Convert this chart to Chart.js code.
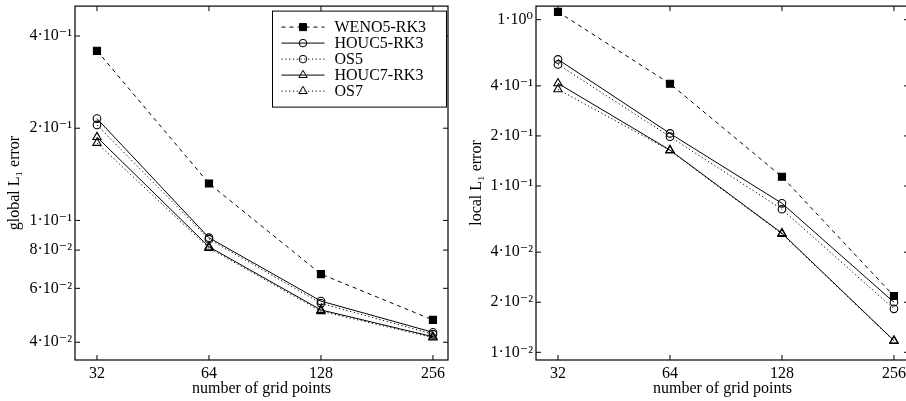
<!DOCTYPE html>
<html>
<head>
<meta charset="utf-8">
<script src="https://cdn.jsdelivr.net/npm/chart.js@4"></script>
<style>
  html, body { margin: 0; padding: 0; background: #fff; overflow: hidden; }
  #wrap { position: relative; width: 906px; height: 401px; overflow: hidden; }
  #leftChart { position: absolute; left: 0; top: 0; }
  #rightChart { position: absolute; left: 455px; top: 0; }
</style>
</head>
<body>
<div id="wrap">
  <canvas id="leftChart" width="455" height="401"></canvas>
  <canvas id="rightChart" width="461" height="401"></canvas>
</div>
<script>
// данные
const gridPoints = [32, 64, 128, 256];
const seriesNames = ["WENO5-RK3", "HOUC5-RK3", "OS5", "HOUC7-RK3", "OS7"];

const globalWeno5 = [0.358, 0.132, 0.0668, 0.0473];
const globalHouc5 = [0.215, 0.0878, 0.0545, 0.0431];
const globalOs5 = [0.205, 0.0868, 0.0536, 0.0425];
const globalHouc7 = [0.187, 0.0820, 0.0510, 0.0417];
const globalOs7 = [0.179, 0.0812, 0.0505, 0.0414];

const localWeno5 = [1.114, 0.412, 0.1137, 0.0218];
const localHouc5 = [0.577, 0.207, 0.0787, 0.0200];
const localOs5 = [0.538, 0.198, 0.0725, 0.01825];
const localHouc7 = [0.414, 0.1645, 0.052, 0.01177];
const localOs7 = [0.381, 0.1635, 0.0515, 0.0117];

const xTicks = [32, 64, 128, 256];
const xTickLabels = ["32", "64", "128", "256"];
const leftYTicks = [0.04, 0.06, 0.08, 0.1, 0.2, 0.4];
const leftYTickLabels = ["4·10⁻²", "6·10⁻²", "8·10⁻²", "1·10⁻¹", "2·10⁻¹", "4·10⁻¹"];
const rightYTicks = [0.01, 0.02, 0.04, 0.1, 0.2, 0.4, 1];
const rightYTickLabels = ["1·10⁻²", "2·10⁻²", "4·10⁻²", "1·10⁻¹", "2·10⁻¹", "4·10⁻¹", "1·10⁰"];

Chart.defaults.font.family = "'Liberation Serif', 'DejaVu Serif', serif";
Chart.defaults.font.size = 16;
Chart.defaults.color = "#000";

// стили линий
const styles = [
    { dash: [4, 4], pointStyle: "rect", radius: 5, fill: "#000" },
    { dash: [], pointStyle: "circle", radius: 3.8, fill: "rgba(0,0,0,0)" },
    { dash: [1.2, 2.6], pointStyle: "circle", radius: 3.8, fill: "rgba(0,0,0,0)" },
    { dash: [], pointStyle: "triangle", radius: 4.8, fill: "rgba(0,0,0,0)" },
    { dash: [1.2, 2.6], pointStyle: "triangle", radius: 4.8, fill: "rgba(0,0,0,0)" },
];

function makeDatasets(seriesList) {
    return seriesList.map((values, i) => ({
        label: seriesNames[i],
        data: values.map((v, j) => ({ x: gridPoints[j], y: v })),
        borderColor: "#000",
        borderWidth: 1,
        borderDash: styles[i].dash,
        pointStyle: styles[i].pointStyle,
        pointRadius: styles[i].radius,
        pointBorderWidth: 1.1,
        pointBorderColor: "#000",
        pointBackgroundColor: styles[i].fill,
        tension: 0,
        fill: false,
    }));
}

// рамка и внутренние штрихи
const framePlugin = {
    id: "frame",
    afterDatasetsDraw(chart) {
        const { ctx, chartArea: a, scales } = chart;
        const len = 5;
        ctx.save();
        ctx.strokeStyle = "#000";
        ctx.lineWidth = 1.2;
        ctx.setLineDash([]);
        ctx.strokeRect(a.left, a.top, a.right - a.left, a.bottom - a.top);
        ctx.lineWidth = 1;
        ctx.beginPath();
        scales.x.ticks.forEach(t => {
            const px = scales.x.getPixelForValue(t.value);
            ctx.moveTo(px, a.bottom); ctx.lineTo(px, a.bottom - len);
            ctx.moveTo(px, a.top); ctx.lineTo(px, a.top + len);
        });
        scales.y.ticks.forEach(t => {
            const py = scales.y.getPixelForValue(t.value);
            ctx.moveTo(a.left, py); ctx.lineTo(a.left + len, py);
            ctx.moveTo(a.right, py); ctx.lineTo(a.right - len, py);
        });
        ctx.stroke();
        ctx.restore();
    }
};

// легенда в рамке
const legendBoxPlugin = {
    id: "legendBox",
    afterDraw(chart) {
        if (!chart.options.plugins.legendBox || !chart.options.plugins.legendBox.show) return;
        const { ctx, chartArea: a } = chart;
        const boxRight = a.right - 1.5;
        const boxW = 174, boxH = 96;
        const boxLeft = boxRight - boxW, boxTop = a.top + 5;
        ctx.save();
        ctx.fillStyle = "#fff";
        ctx.fillRect(boxLeft, boxTop, boxW, boxH);
        ctx.strokeStyle = "#000";
        ctx.lineWidth = 1;
        ctx.setLineDash([]);
        ctx.strokeRect(boxLeft, boxTop, boxW, boxH);
        chart.data.datasets.forEach((ds, i) => {
            const y = boxTop + 16 + i * 16;
            const x0 = boxLeft + 9, x1 = boxLeft + 52, xm = (x0 + x1) / 2;
            ctx.setLineDash(ds.borderDash);
            ctx.lineWidth = 1;
            ctx.strokeStyle = "#000";
            ctx.beginPath();
            ctx.moveTo(x0, y); ctx.lineTo(x1, y);
            ctx.stroke();
            ctx.setLineDash([]);
            ctx.fillStyle = ds.pointBackgroundColor;
            Chart.helpers.drawPoint(ctx, {
                pointStyle: ds.pointStyle, radius: ds.pointRadius, borderWidth: 1, rotation: 0
            }, xm, y);
            ctx.fillStyle = "#000";
            ctx.font = "16px 'Liberation Serif', serif";
            ctx.textBaseline = "middle";
            ctx.textAlign = "left";
            ctx.fillText(ds.label, boxLeft + 62, y + 1);
        });
        ctx.restore();
    }
};

function makeChart(canvasId, seriesList, yTicks, yTickLabels, yMin, yMax, yTitle, yWidth, yTitlePad, padRight, showLegend) {
    return new Chart(document.getElementById(canvasId), {
        type: "line",
        data: { datasets: makeDatasets(seriesList) },
        options: {
            responsive: false,
            animation: false,
            layout: { padding: { top: 6, right: padRight, left: 0, bottom: 0 } },
            plugins: {
                legend: { display: false },
                tooltip: { enabled: false },
                legendBox: { show: showLegend },
            },
            scales: {
                x: {
                    type: "logarithmic",
                    min: 27.93,
                    max: 281,
                    grid: { display: false, drawTicks: false },
                    border: { display: false },
                    afterBuildTicks: s => { s.ticks = xTicks.map(v => ({ value: v })); },
                    afterFit: s => {
                        s.height = 41;
                        s.paddingLeft = 0; s.paddingRight = 0;
                    },
                    ticks: {
                        autoSkip: false,
                        maxRotation: 0,
                        padding: 4,
                        callback: v => xTickLabels[xTicks.indexOf(v)],
                    },
                    title: { display: true, text: "number of grid points", padding: { top: 0, bottom: 2.4 } },
                },
                y: {
                    type: "logarithmic",
                    min: yMin,
                    max: yMax,
                    grid: { display: false, drawTicks: false },
                    border: { display: false },
                    afterBuildTicks: s => { s.ticks = yTicks.map(v => ({ value: v })); },
                    afterFit: s => {
                        s.width = yWidth;
                        s.paddingTop = 0; s.paddingBottom = 0;
                    },
                    ticks: {
                        autoSkip: false,
                        padding: 3,
                        callback: v => yTickLabels[yTicks.findIndex(t => Math.abs(t - v) < 1e-9)],
                    },
                    title: { display: true, text: yTitle, padding: { top: yTitlePad, bottom: 0 } },
                },
            },
        },
        plugins: [framePlugin, legendBoxPlugin],
    });
}

makeChart("leftChart",
    [globalWeno5, globalHouc5, globalOs5, globalHouc7, globalOs7],
    leftYTicks, leftYTickLabels, 0.035, 0.501, "global L₁ error", 75, 5.4, 7, true);

makeChart("rightChart",
    [localWeno5, localHouc5, localOs5, localHouc7, localOs7],
    rightYTicks, rightYTickLabels, 0.00899, 1.207, "local L₁ error", 81, 12.4, 7, false);
</script>
</body>
</html>
